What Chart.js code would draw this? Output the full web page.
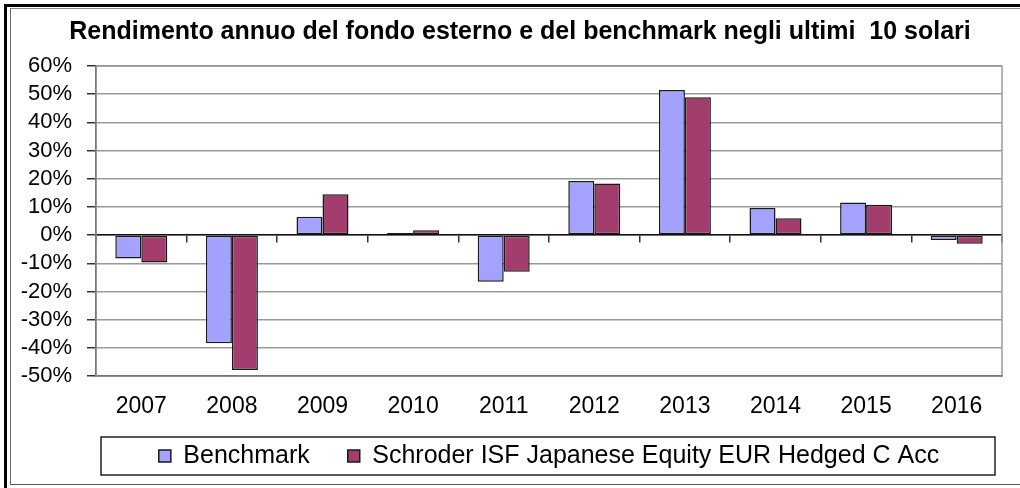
<!DOCTYPE html>
<html>
<head>
<meta charset="utf-8">
<script src="https://cdn.jsdelivr.net/npm/chart.js@4"></script>
<style>
	html, body { margin: 0; padding: 0; background: #fff; }
	#wrap { position: relative; width: 1020px; height: 488px; overflow: hidden; }
	#canvas { position: absolute; left: 0; top: 0; }
	.frameOuter { position: absolute; left: 4px; top: 4px; width: 1030px; height: 500px;
		border-left: 3px solid #000; border-top: 3px solid #000; pointer-events: none; }
	.frameInner { position: absolute; left: 10px; top: 8px; width: 1030px; height: 475px;
		border-left: 1.5px solid #666; border-top: 1.5px solid #888; border-bottom: 1.5px solid #555; pointer-events: none; }
</style>
</head>
<body>
<div id="wrap">
	<canvas id="canvas" width="1020" height="488"></canvas>
	<div class="frameOuter"></div>
	<div class="frameInner"></div>
</div>
<script>
const years = ['2007', '2008', '2009', '2010', '2011', '2012', '2013', '2014', '2015', '2016'];
const benchmark = [-8.3, -38.4, 6.5, 0.7, -16.6, 19.2, 51.5, 9.6, 11.6, -1.7];
const fondo = [-9.7, -47.9, 14.5, 1.7, -13.0, 18.3, 48.9, 6.0, 10.8, -3.1];
const yTicks = [60, 50, 40, 30, 20, 10, 0, -10, -20, -30, -40, -50];

const FONT = 'Liberation Sans, Arial, sans-serif';

// gray frame round the plot area, like the old spreadsheet charts
const plotFrame = {
	id: 'plotFrame',
	beforeDatasetsDraw(chart) {
		const a = chart.chartArea;
		const ctx = chart.ctx;
		ctx.save();
		ctx.strokeStyle = '#999';
		ctx.lineWidth = 1.5;
		ctx.strokeRect(a.left, a.top, a.right - a.left, a.bottom - a.top);
		ctx.restore();
	}
};

// let the tick labels spill past their boxes (the labels are clipped to the scale box)
const widenScales = {
	id: 'widenScales',
	afterLayout(chart) {
		chart.scales.y.left = 0;
		chart.scales.x.bottom = chart.scales.x.top + 50;
	}
};

// box drawn round the legend
const legendBox = {
	id: 'legendBox',
	afterDraw(chart) {
		const l = chart.legend;
		const a = chart.chartArea;
		const hit = l.legendHitBoxes;
		if (!hit || !hit.length) return;
		const cy = hit[0].top + hit[0].height / 2;
		const ctx = chart.ctx;
		ctx.save();
		ctx.strokeStyle = '#222';
		ctx.lineWidth = 1.5;
		ctx.strokeRect(a.left + 5, cy - 19, a.right - a.left - 12, 38);
		ctx.restore();
	}
};

const ctx = document.getElementById('canvas').getContext('2d');
new Chart(ctx, {
	type: 'bar',
	data: {
		labels: years,
		datasets: [
			{
				label: 'Benchmark',
				data: benchmark,
				backgroundColor: '#A3A3FF',
				borderColor: '#1a1a1a',
				borderWidth: 1.5,
				borderSkipped: false
			},
			{
				label: 'Schroder ISF Japanese Equity EUR Hedged C Acc',
				data: fondo,
				backgroundColor: '#A33D6D',
				borderColor: '#1a1a1a',
				borderWidth: 1.5,
				borderSkipped: false
			}
		]
	},
	options: {
		responsive: false,
		animation: false,
		events: [],
		layout: { padding: { left: 38, right: 18, top: 0, bottom: 9.5 } },
		datasets: {
			bar: { categoryPercentage: 0.574, barPercentage: 1.0 }
		},
		plugins: {
			title: {
				display: true,
				text: 'Rendimento annuo del fondo esterno e del benchmark negli ultimi  10 solari',
				color: '#000',
				font: { family: FONT, size: 25, weight: 'bold' },
				padding: { top: 17, bottom: 19 }
			},
			legend: {
				position: 'bottom',
				fullSize: false,
				labels: {
					color: '#000',
					font: { family: FONT, size: 25 },
					boxWidth: 12,
					boxHeight: 12,
					padding: 38
				}
			},
			tooltip: { enabled: false }
		},
		scales: {
			x: {
				type: 'category',
				afterFit(scale) { scale.height = 29.5; },
				grid: { display: false },
				border: { display: true, color: '#111', width: 1.5 },
				ticks: {
					color: '#000',
					font: { family: FONT, size: 23 },
					padding: 9,
					maxRotation: 0
				}
			},
			// zero line with tick marks between the years
			xZero: {
				type: 'category',
				labels: years,
				position: { y: 0 },
				offset: true,
				grid: {
					display: true,
					offset: true,
					drawOnChartArea: false,
					drawTicks: true,
					tickLength: 7,
					tickColor: '#333',
					lineWidth: 1.5
				},
				border: { display: true, color: '#111', width: 1.5 },
				ticks: { display: false }
			},
			y: {
				min: -50,
				max: 60,
				afterFit(scale) { scale.width = 58; },
				afterBuildTicks(scale) {
					scale.ticks = yTicks.map(v => ({ value: v }));
				},
				grid: {
					color: '#999',
					lineWidth: 1.5,
					tickColor: '#333',
					tickLength: 9
				},
				border: { display: true, color: '#222', width: 1.5 },
				ticks: {
					color: '#000',
					autoSkip: false,
					font: { family: FONT, size: 22 },
					padding: 15,
					callback: v => v + '%'
				}
			}
		}
	},
	plugins: [plotFrame, widenScales, legendBox]
});
</script>
</body>
</html>
